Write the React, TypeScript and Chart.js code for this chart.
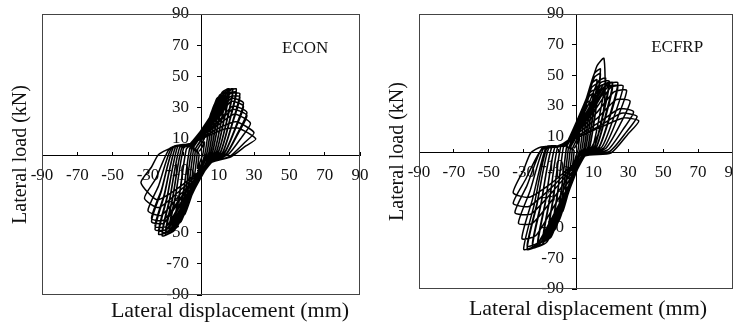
import React, { useEffect, useRef } from 'react';
import { Chart, registerables } from 'chart.js';
Chart.register(...registerables);

// Tick values shown on both axes
const tickValues = [-90, -70, -50, -30, -10, 10, 30, 50, 70, 90];
const xTitle = 'Lateral displacement (mm)';
const yTitle = 'Lateral load (kN)';

// ECON hysteresis: one row per cycle, [displacement mm, load kN]
const econCycles: [number, number][][] = [
  [[-1, 2], [0.8, 5], [1.5, 7.6], [2, 8], [1.6, 4.4], [1.1, 0.5], [0, -3], [-0.8, -5.6], [-1.5, -8.6], [-2, -9], [-1.6, -5], [-1.1, 0]],
  [[-2, 3], [1.6, 9.5], [3, 14.3], [4, 15], [3.3, 8], [2.2, 0.5], [1, -4], [-1.6, -10.5], [-3, -16], [-4, -17], [-3.2, -9.5], [-2.2, 1]],
  [[-3, 4], [2.4, 13.5], [4.5, 21], [6, 22], [4.9, 12], [3.3, 1], [1.5, -4], [-2.4, -14], [-4.5, -22], [-6, -23], [-4.8, -12.5], [-3.3, 1.5]],
  [[-3, 4], [2.4, 12.5], [4.5, 19], [6, 20], [4.9, 11], [3.3, 0.5], [1.5, -4], [-2.4, -13], [-4.5, -20.5], [-6, -21.5], [-4.8, -12], [-3.3, 1.5]],
  [[-4, 5], [3.2, 18], [6, 27.5], [8, 29], [6.6, 16], [4.4, 1], [2, -5], [-3.2, -18], [-6, -27.5], [-8, -29], [-6.4, -16], [-4.4, 2]],
  [[-4, 5], [3.2, 17], [6, 25.5], [8, 27], [6.6, 15], [4.4, 0.5], [2, -5], [-3.2, -17], [-6, -25.5], [-8, -27], [-6.4, -15], [-4.4, 2]],
  [[-4, 6], [4, 21], [7.5, 32], [10, 34], [8.2, 18.5], [5.5, 1.5], [3, -5], [-4, -21.5], [-7.5, -33], [-10, -35], [-8, -19], [-5.5, 2.5]],
  [[-4, 6], [4, 20], [7.5, 30], [10, 32], [8.2, 17.5], [5.5, 1], [3, -5], [-4, -20.5], [-7.5, -31], [-10, -33], [-8, -18], [-5.5, 2.5]],
  [[-5, 6], [4.8, 23.5], [9, 36], [12, 38], [9.8, 21], [6.6, 2], [3.5, -5], [-4.8, -25], [-9, -38], [-12, -40], [-9.6, -22], [-6.6, 3]],
  [[-5, 6], [4.8, 22.5], [9, 34], [12, 36], [9.8, 20], [6.6, 1.5], [3.5, -5], [-4.8, -23.5], [-9, -36], [-12, -38], [-9.6, -21], [-6.6, 3]],
  [[-5, 7], [5.6, 25], [10.5, 38], [14, 40], [11.5, 22], [7.7, 2], [4, -5], [-6, -28], [-11.3, -43], [-15, -45], [-12, -25], [-8.3, 3.5]],
  [[-5, 7], [5.6, 23.5], [10.5, 36], [14, 38], [11.5, 21], [7.7, 1.5], [4, -5], [-6, -26.5], [-11.3, -41], [-15, -43], [-12, -23.5], [-8.3, 3.5]],
  [[-5, 7], [6.4, 26], [12, 40], [16, 42], [13.1, 23], [8.8, 2], [4.5, -5], [-7.2, -30], [-13.5, -46.5], [-18, -49], [-14.4, -27], [-9.9, 4]],
  [[-5, 7], [6.4, 25], [12, 38], [16, 40], [13.1, 22], [8.8, 1.5], [4.5, -5], [-7.2, -29], [-13.5, -44.5], [-18, -47], [-14.4, -26], [-9.9, 4]],
  [[-6, 7], [7.2, 26], [13.5, 40], [18, 42], [14.8, 23], [9.9, 2], [5, -5], [-8, -31.5], [-15, -48.5], [-20, -51], [-16, -28], [-11, 4]],
  [[-6, 7], [7.2, 25], [13.5, 38], [18, 40], [14.8, 22], [9.9, 1.5], [5, -5], [-8, -30.5], [-15, -46.5], [-20, -49], [-16, -27], [-11, 4]],
  [[-6, 7], [8, 26], [15, 40], [20, 42], [16.4, 23], [11, 1.5], [5, -5], [-8.8, -32], [-16.5, -49.5], [-22, -52], [-17.6, -28.5], [-12.1, 4.5]],
  [[-6, 7], [8, 25], [15, 38], [20, 40], [16.4, 22], [11, 1], [5, -5], [-8.8, -31], [-16.5, -47.5], [-22, -50], [-17.6, -27.5], [-12.1, 4.5]],
  [[-6, 7], [8.8, 25], [16.5, 39], [22, 39], [18, 21.5], [12.1, 1], [5.5, -5], [-9.6, -31.5], [-18, -49], [-24, -51], [-19.2, -28], [-13.2, 5]],
  [[-6, 7], [8.8, 24], [16.5, 37], [22, 37], [18, 20.5], [12.1, 0.5], [5.5, -5], [-9.6, -30.5], [-18, -47], [-24, -49], [-19.2, -27], [-13.2, 5]],
  [[-6, 7], [9.6, 24], [17, 36], [24, 33], [19.7, 18], [13.2, 1], [6, -5], [-10.4, -30], [-19.5, -48], [-26, -48], [-20.8, -26.5], [-14.3, 5]],
  [[-6, 7], [9.6, 23], [17, 34], [24, 31], [19.7, 17], [13.2, 0.5], [6, -5], [-10.4, -29], [-19.5, -46], [-26, -46], [-20.8, -25.5], [-14.3, 5]],
  [[-6, 7], [10.4, 22], [18, 31], [26, 27], [21.3, 15], [14.3, 0.5], [6, -5], [-11.2, -28], [-21, -44], [-28, -43], [-22.4, -23.5], [-15.4, 5]],
  [[-6, 7], [10.4, 21], [18, 29], [26, 25], [21.3, 14], [14.3, 0], [6, -5], [-11.2, -27], [-21, -42], [-28, -41], [-22.4, -22.5], [-15.4, 5]],
  [[-6, 7], [11, 20], [19, 26], [28, 20], [23, 11], [15.4, 0], [6, -5], [-12, -26], [-22.5, -39], [-30, -36], [-24, -20], [-16.5, 4.5]],
  [[-6, 7], [12, 18], [20, 21], [30, 14], [24.6, 7.5], [16.5, -1], [6, -5], [-12.8, -24], [-24, -34], [-32, -28], [-25.6, -15.5], [-17.6, 4]],
  [[-6, 7], [12.4, 16], [21, 17], [31, 10], [25.4, 5.5], [17, -1.5], [6, -5], [-13.6, -22], [-25, -29], [-34, -18], [-28, -8], [-24, 0], [-15, 5], [-5, 6]],
];

// ECFRP hysteresis: one row per cycle, [displacement mm, load kN]
const ecfrpCycles: [number, number][][] = [
  [[-1, 2], [0.8, 5.6], [1.5, 8.6], [2, 9], [1.6, 5], [1.1, 0.5], [0, -3], [-0.8, -6.2], [-1.5, -9.5], [-2, -10], [-1.6, -5.5], [-1.1, 0.5]],
  [[-2, 2], [1.6, 10.5], [3, 16], [4, 17], [3.3, 9.5], [2.2, 0.5], [1, -3], [-1.6, -11], [-3, -17], [-4, -18], [-3.2, -10], [-2.2, 1]],
  [[-3, 3], [2.4, 15.5], [4.5, 24], [6, 25], [4.9, 14], [3.3, 1], [1.5, -3], [-2.4, -16], [-4.5, -24.5], [-6, -26], [-4.8, -14.5], [-3.3, 1.5]],
  [[-3, 3], [2.4, 14], [4.5, 22], [6, 23], [4.9, 12.5], [3.3, 1], [1.5, -3], [-2.4, -15], [-4.5, -23], [-6, -24], [-4.8, -13], [-3.3, 1.5]],
  [[-4, 3], [3.2, 20.5], [6, 31.5], [8, 33], [6.6, 18], [4.4, 1.5], [2, -3], [-3.2, -21], [-6, -32.5], [-8, -34], [-6.4, -18.5], [-4.4, 2]],
  [[-4, 3], [3.2, 19], [6, 29.5], [8, 31], [6.6, 17], [4.4, 1], [2, -3], [-3.2, -20], [-6, -30.5], [-8, -32], [-6.4, -17.5], [-4.4, 2]],
  [[-4, 3], [4, 25], [7.5, 38], [10, 40], [8.2, 22], [5.5, 2], [3, -3], [-4, -25.5], [-7.5, -39], [-10, -41], [-8, -22.5], [-5.5, 2.5]],
  [[-4, 3], [4, 23.5], [7.5, 36], [10, 38], [8.2, 21], [5.5, 1.5], [3, -3], [-4, -24], [-7.5, -37], [-10, -39], [-8, -21.5], [-5.5, 2.5]],
  [[-5, 4], [4.8, 29], [9, 44.5], [12, 47], [9.8, 26], [6.6, 2], [3, -3], [-5.2, -30], [-9.8, -45.5], [-13, -48], [-10.4, -26.5], [-7.2, 3]],
  [[-5, 4], [4.8, 27], [9, 42], [12, 44], [9.8, 24], [6.6, 1.5], [3, -3], [-5.2, -28.5], [-9.8, -43.5], [-13, -46], [-10.4, -25.5], [-7.2, 3]],
  [[-5, 4], [5.6, 33.5], [10.5, 51], [14, 54], [11.5, 29.5], [7.7, 2.5], [3.5, -3], [-6.4, -33.5], [-12, -51], [-16, -54], [-12.8, -29.5], [-8.8, 3]],
  [[-5, 4], [5.6, 31.5], [10.5, 48.5], [14, 51], [11.5, 28], [7.7, 2], [3.5, -3], [-6.4, -32], [-12, -49.5], [-16, -52], [-12.8, -28.5], [-8.8, 3]],
  [[-6, 4], [6.4, 36], [12, 56], [16, 61], [16.6, 36], [14, 15], [9, 3], [4, -3], [-7.6, -36.5], [-14.3, -56], [-19, -59], [-15.2, -32.5], [-10.5, 3]],
  [[-6, 4], [6.8, 30], [12.8, 46], [17, 48], [14, 26.5], [9.4, 2.5], [4, -3], [-7.6, -35.5], [-14.3, -54], [-19, -57], [-15.2, -31.5], [-10.5, 3]],
  [[-6, 4], [7.6, 29], [14, 45], [19, 46], [15.6, 25.5], [10.5, 3], [4, -3], [-8.8, -38.5], [-16.5, -59], [-22, -62], [-17.6, -34], [-12.1, 3]],
  [[-6, 4], [7.6, 27.5], [14, 43], [19, 44], [15.6, 24], [10.5, 2.5], [4, -3], [-8.8, -37], [-16.5, -57], [-22, -60], [-17.6, -33], [-12.1, 3]],
  [[-6, 4], [8.4, 28], [15.8, 44], [21, 45], [17.2, 25], [11.6, 3], [4.5, -3], [-10, -39], [-18.8, -60], [-25, -63], [-20, -34.5], [-13.8, 3]],
  [[-6, 4], [8.4, 27], [15.8, 42], [21, 43], [17.2, 23.5], [11.6, 2.5], [4.5, -3], [-10, -38], [-18.8, -58], [-25, -61], [-20, -33.5], [-13.8, 3]],
  [[-6, 4], [9.6, 28], [18, 44], [24, 45], [19.7, 25], [13.2, 3], [5, -3], [-11.2, -39.5], [-21, -61], [-28, -64], [-22.4, -35], [-15.4, 3]],
  [[-6, 4], [9.6, 27], [18, 42], [24, 43], [19.7, 23.5], [13.2, 2.5], [5, -3], [-11.2, -38.5], [-21, -59], [-28, -62], [-22.4, -34], [-15.4, 3]],
  [[-7, 4], [10.8, 27], [20, 42], [27, 43], [22, 23.5], [14.9, 3], [5, -3], [-12, -39.5], [-22.5, -61], [-30, -64], [-24, -35], [-16.5, 3]],
  [[-8, 4], [11.6, 25], [21.8, 39], [29, 40], [23.8, 22], [16, 2.5], [5, -3], [-12.4, -35.5], [-23, -55], [-31, -57], [-25, -31.5], [-17, 3]],
  [[-9, 4], [12.4, 22], [23, 34], [31, 33], [25.4, 18], [17, 2], [5, -3], [-13.2, -31], [-25, -47], [-33, -47], [-26.4, -26], [-18.2, 3]],
  [[-10, 3], [13.2, 19], [25, 28], [33, 26], [27, 14.5], [18.2, 1], [5, -3], [-14, -27], [-26, -41], [-35, -40], [-28, -22], [-19.3, 2.5]],
  [[-10, 3], [14, 17], [26, 25], [35, 23], [28.7, 12.5], [19.3, 0], [5, -3], [-14.4, -24], [-27, -36], [-36, -34], [-29, -18.5], [-20, 1]],
  [[-12, 3], [14.4, 16], [27, 22], [36, 20], [29.5, 11], [20, -1], [5, -3], [-14.4, -21], [-27, -30], [-36, -27], [-30, -12], [-26, -1], [-20, 3], [-10, 3]],
];

const FONT = '"Liberation Serif", "Times New Roman", serif';
Chart.defaults.font.family = FONT;

const framePlugin = {
  id: 'frame',
  afterDraw(chart: any, _args: any, opts: any) {
    const { ctx, chartArea } = chart;
    const { left, top, right, bottom } = chartArea;
    ctx.save();
    ctx.strokeStyle = '#444';
    ctx.lineWidth = 1;
    ctx.strokeRect(Math.round(left) + 0.5, Math.round(top) + 0.5, Math.round(right - left) - 1, Math.round(bottom - top) - 1);
    ctx.fillStyle = '#111';
    ctx.textAlign = 'center';
    ctx.textBaseline = 'middle';
    ctx.font = `17px ${FONT}`;
    ctx.fillText(opts.label, chart.scales.x.getPixelForValue(opts.lx), chart.scales.y.getPixelForValue(opts.ly));
    ctx.font = `22px ${FONT}`;
    ctx.fillText(xTitle, (left + right) / 2 + opts.titleDx, bottom + opts.titleDy);
    ctx.restore();
  },
};

type Spec = {
  cycles: [number, number][][];
  label: string;
  lx: number;
  ly: number;
  width: number;
  left: number;
  padRight: number;
  yTitleWidth: number;
  xTitleHeight: number;
  yTitlePad: number;
  titleDx: number;
  titleDy: number;
};

const setTicks = (s: any) => {
  s.ticks = tickValues.map((v) => ({ value: v }));
};
const zeroPads = (s: any) => {
  s.paddingLeft = 0;
  s.paddingRight = 0;
  s.paddingTop = 0;
  s.paddingBottom = 0;
};

function makeConfig(p: Spec): any {
  const data = p.cycles.flat().map(([x, y]) => ({ x, y }));
  return {
    type: 'scatter',
    data: {
      datasets: [
        {
          data,
          showLine: true,
          borderColor: '#000',
          borderWidth: 1.5,
          pointRadius: 0,
          tension: 0.2,
          fill: false,
        },
      ],
    },
    options: {
      responsive: false,
      animation: false,
      events: [],
      layout: { padding: { top: 14, right: p.padRight, left: 0, bottom: p.xTitleHeight } },
      plugins: {
        legend: { display: false },
        tooltip: { enabled: false },
        frame: { label: p.label, lx: p.lx, ly: p.ly, titleDx: p.titleDx, titleDy: p.titleDy },
      },
      scales: {
        x: {
          type: 'linear',
          position: 'center',
          min: -90,
          max: 90,
          afterBuildTicks: setTicks,
          afterFit: (s: any) => {
            s.height = 0;
            zeroPads(s);
          },
          grid: { drawOnChartArea: false, drawTicks: true, tickLength: -4, color: '#000' },
          border: { display: true, color: '#000', width: 1 },
          ticks: { font: { size: 17 }, color: '#111', padding: 15, maxRotation: 0, autoSkip: false },
        },
        y: {
          type: 'linear',
          position: 'center',
          min: -90,
          max: 90,
          afterBuildTicks: setTicks,
          afterFit: (s: any) => {
            s.width = 0;
            zeroPads(s);
          },
          grid: { drawOnChartArea: false, drawTicks: true, tickLength: 4, color: '#000' },
          border: { display: true, color: '#000', width: 1 },
          ticks: { font: { size: 17 }, color: '#111', padding: 8, autoSkip: false },
        },
        yT: {
          type: 'linear',
          position: 'left',
          min: -90,
          max: 90,
          grid: { display: false },
          border: { display: false },
          ticks: { display: false },
          title: { display: true, text: yTitle, color: '#111', font: { size: 20 }, padding: { top: p.yTitlePad, bottom: 0 } },
          afterFit: (s: any) => {
            s.width = p.yTitleWidth;
            zeroPads(s);
          },
        },
      },
    },
    plugins: [framePlugin],
  };
}

function Panel({ spec }: { spec: Spec }) {
  const ref = useRef<HTMLCanvasElement | null>(null);
  useEffect(() => {
    if (!ref.current) return;
    const chart = new Chart(ref.current, makeConfig(spec));
    return () => chart.destroy();
  }, [spec]);
  return (
    <canvas
      ref={ref}
      width={spec.width}
      height={322}
      style={{ position: 'absolute', left: spec.left, top: 0, width: spec.width, height: 322, display: 'block' }}
    />
  );
}

const leftSpec: Spec = {
  cycles: econCycles, label: 'ECON', lx: 59, ly: 68,
  width: 372, left: 0, padRight: 12, yTitleWidth: 42, xTitleHeight: 27, yTitlePad: 9, titleDx: 29, titleDy: 16,
};
const rightSpec: Spec = {
  cycles: ecfrpCycles, label: 'ECFRP', lx: 58, ly: 68,
  width: 361, left: 372, padRight: 0, yTitleWidth: 47, xTitleHeight: 33, yTitlePad: 14, titleDx: 12, titleDy: 20,
};

export default function App() {
  return (
    <div style={{ position: 'fixed', left: 0, top: 0, width: 733, height: 322, background: '#fff', overflow: 'hidden' }}>
      <Panel spec={leftSpec} />
      <Panel spec={rightSpec} />
    </div>
  );
}
